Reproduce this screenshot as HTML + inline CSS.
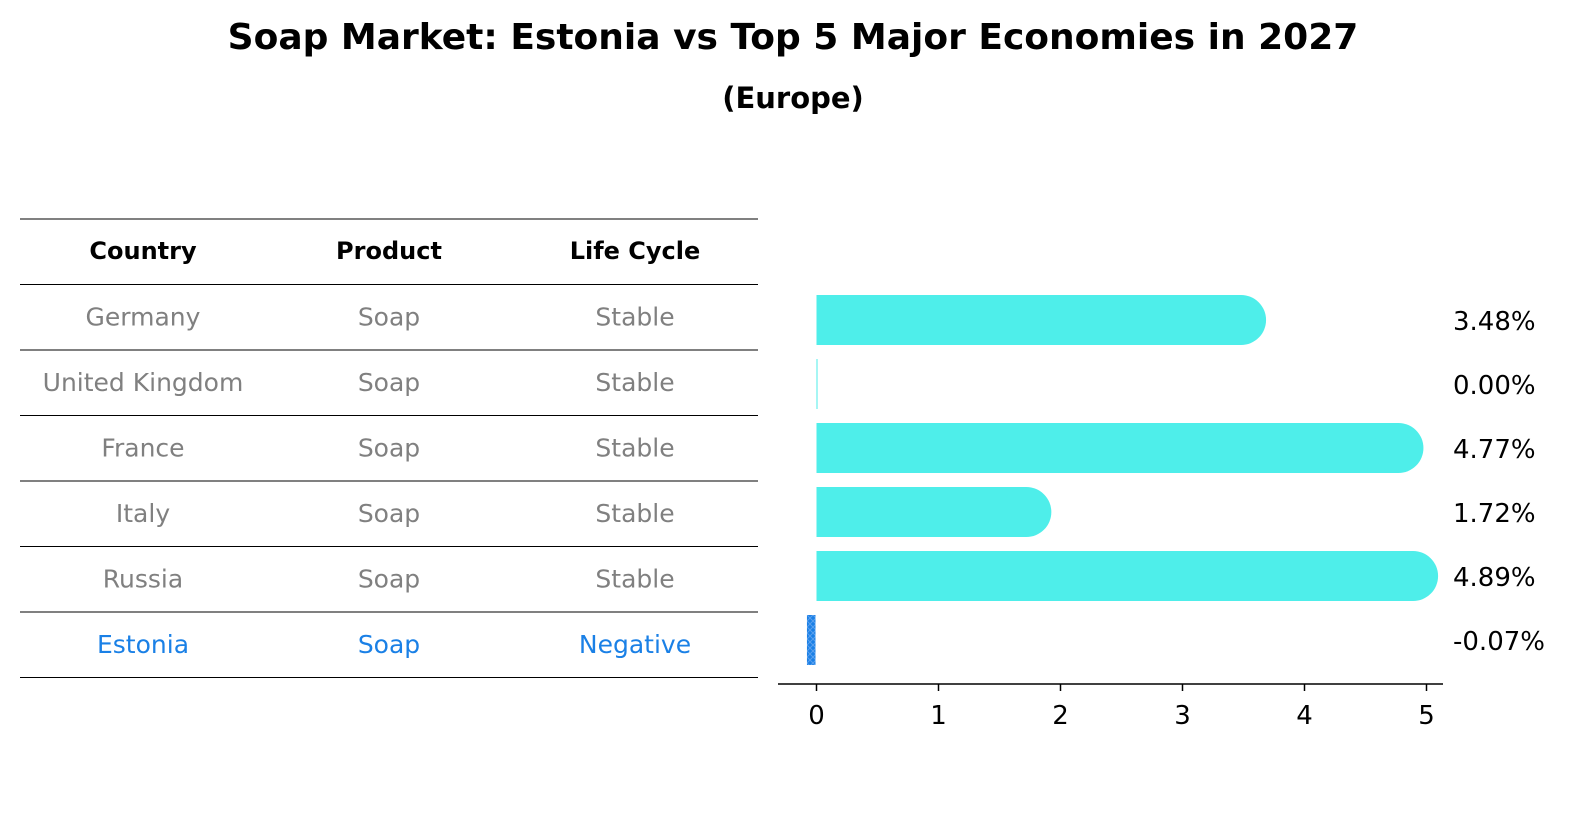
<!DOCTYPE html>
<html><head><meta charset="utf-8"><style>
html,body{margin:0;padding:0;overflow:hidden;background:#fff;width:1596px;height:823px;font-family:"Liberation Sans","DejaVu Sans",sans-serif;}
svg{display:block;}
svg text{font-family:"DejaVu Sans","Liberation Sans",sans-serif;}
</style></head><body>
<svg width="1596" height="823" viewBox="0 0 1596 823" xmlns="http://www.w3.org/2000/svg">
<text x="793" y="49" text-anchor="middle" font-size="36" font-weight="bold">Soap Market: Estonia vs Top 5 Major Economies in 2027</text>
<text x="793" y="108" text-anchor="middle" font-size="29" font-weight="bold">(Europe)</text>
<g id="table"></g>
<defs><pattern id="hatch" width="6" height="6" patternUnits="userSpaceOnUse"><rect width="6" height="6" fill="#1a80e6"/><path d="M0 0L6 6M6 0L0 6" stroke="#5aa0ee" stroke-width="1"/></pattern></defs>
<g id="bars"></g>
</svg>
<script>
const countries=["Germany","United Kingdom","France","Italy","Russia","Estonia"];
const products=["Soap","Soap","Soap","Soap","Soap","Soap"];
const cycles=["Stable","Stable","Stable","Stable","Stable","Negative"];
const values=[3.48,0.00,4.77,1.72,4.89,-0.07];
const ticks=[0,1,2,3,4,5];
const NS="http://www.w3.org/2000/svg";
function mk(tag,attrs,parent,text){const e=document.createElementNS(NS,tag);for(const k in attrs)e.setAttribute(k,attrs[k]);if(text!==undefined)e.textContent=text;parent.appendChild(e);return e;}
const tb=document.getElementById('table');
const rowY=i=>219+65.5*i;
for(let i=0;i<=7;i++){const l=mk('line',{x1:20,x2:758,y1:rowY(i),y2:rowY(i),stroke:'#000','stroke-width':1},tb);

}
const colX=[143,389,635];
["Country","Product","Life Cycle"].forEach((h,j)=>{const t=mk('text',{x:colX[j],y:rowY(0)+40,'text-anchor':'middle','font-size':24,'font-weight':'bold'},tb,h);

});
countries.forEach((c,i)=>{const col=i===countries.length-1?'#1a80e6':'#808080';
[c,products[i],cycles[i]].forEach((v,j)=>{const t=mk('text',{x:colX[j],y:rowY(i+1)+41,'text-anchor':'middle','font-size':25,fill:col},tb,v);

});});
const bg=document.getElementById('bars');
const xs=v=>816.5+122*v;
const yc=i=>320+64*i;
values.forEach((v,i)=>{
 if(v>=0){
  const r=mk('rect',{x:xs(0),y:yc(i)-25,width:Math.max(1,xs(v)-xs(0)),height:50,fill:'#4eeeea'},bg);
  
  
  if(v>0){const c=mk('circle',{cx:xs(v),cy:yc(i),r:25,fill:'#4eeeea'},bg);
  
  }
 }else{
  const r=mk('rect',{x:xs(v)-1,y:yc(i)-25,width:xs(0)-xs(v),height:50,fill:'url(#hatch)'},bg);
  
  
 }
 const t=mk('text',{x:1453,y:yc(i)+10,'font-size':26},bg,v.toFixed(2)+'%');
 
 
});
const ax=mk('line',{x1:778,x2:1443,y1:684,y2:684,stroke:'#000','stroke-width':1.5},bg);


ticks.forEach(t=>{const l=mk('line',{x1:xs(t),x2:xs(t),y1:684,y2:691,stroke:'#000','stroke-width':1.5},bg);


const tx=mk('text',{x:xs(t),y:724,'text-anchor':'middle','font-size':26},bg,String(t));

});
</script>
</body></html>
